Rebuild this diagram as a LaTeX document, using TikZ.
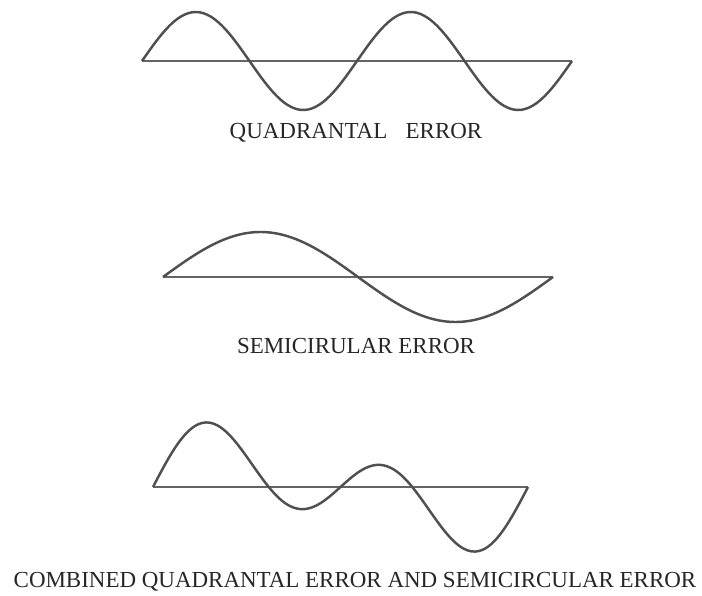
\documentclass[tikz,border=0pt]{standalone}
\usepackage{fontspec}
\setmainfont{Liberation Serif}
\usepackage{tikz}
\usetikzlibrary{positioning}
\definecolor{waveInk}{RGB}{80,80,80}
\definecolor{axisInk}{RGB}{100,100,100}

\begin{document}
\begin{tikzpicture}[x=0.03cm, y=-0.03cm,
    axisline/.style={draw=axisInk, line width=1.3pt},
    wave/.style={draw=waveInk, line width=2.1pt, line join=round, smooth},
    caption/.style={font=\fontsize{19.6}{22}\selectfont, text=black!85, inner sep=0pt}
  ]
    \useasboundingbox (0,0) rectangle (702,596);
    % quadrantal error
    \coordinate (qL) at (142,61);
    \coordinate (qR) at (572,61);
    \draw[axisline] (qL) -- (qR);
    \draw[wave] plot[domain=0:720, samples=120] ({142+\x/720*430}, {61-49*sin(\x)});
    \node[caption] (qlabel) at (356,133) {QUADRANTAL\hspace{0.8em}ERROR};
    % semicircular error
    \coordinate (sL) at (163,277);
    \coordinate (sR) at (553,277);
    \draw[axisline] (sL) -- (sR);
    \draw[wave] plot[domain=0:360, samples=80] ({163+\x/360*390}, {277-45*sin(\x)});
    \node[caption] (slabel) at (356,346) {SEMICIRULAR ERROR};
    % combined
    \coordinate (cL) at (153,487);
    \coordinate (cR) at (528,487);
    \draw[axisline] (cL) -- (cR);
    \draw[wave] plot[domain=0:360, samples=100] ({153+\x/360*375}, {487-42*(0.72*sin(\x)+sin(2*\x))});
    \node[caption] (clabel) at (355,582) {COMBINED QUADRANTAL ERROR AND SEMICIRCULAR ERROR};
  \end{tikzpicture}
\end{document}
